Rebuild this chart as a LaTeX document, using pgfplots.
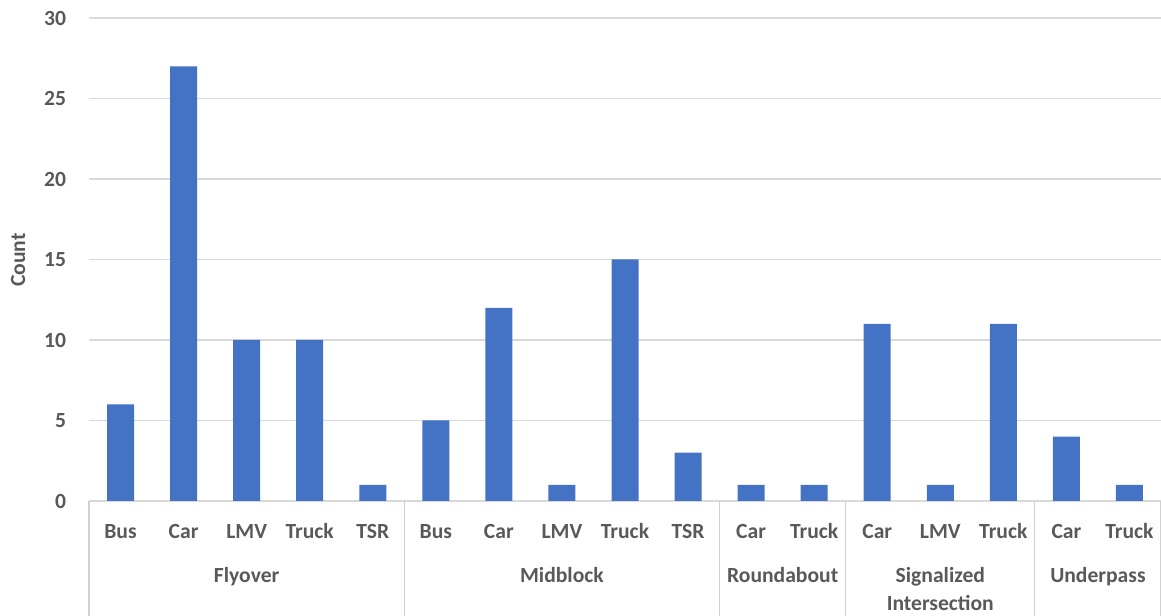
\documentclass[border=0pt]{standalone}
\usepackage{fontspec}
\setmainfont{Carlito}
\usepackage{pgfplots}
\pgfplotsset{compat=1.18}
\definecolor{barblue}{HTML}{4472C4}
\definecolor{labelgray}{HTML}{595959}
\definecolor{gridgray}{HTML}{D9D9D9}
\definecolor{sepgray}{HTML}{D0D0D0}
\begin{document}
\begin{tikzpicture}
\useasboundingbox (0pt,0pt) rectangle (870.75pt,462pt);
\begin{axis}[
  at={(66.75pt,86.25pt)}, anchor=south west,
  scale only axis, width=804pt, height=362.25pt,
  ybar, bar width=20.25pt,
  xmin=-0.5, xmax=16.5, ymin=0, ymax=30,
  ytick={0,5,...,30},
  xtick={0,...,16},
  xticklabels={Bus,Car,LMV,Truck,TSR,Bus,Car,LMV,Truck,TSR,Car,Truck,Car,LMV,Truck,Car,Truck},
  ymajorgrids, grid style={gridgray, line width=0.9pt},
  axis line style={draw=none}, tick style={draw=none},
  /pgf/number format/assume math mode=true,
  ticklabel style={font=\fontsize{16.2}{18}\selectfont\bfseries, text=labelgray, inner sep=0pt},
  xticklabel style={anchor=base, yshift=-23.8pt},
  yticklabel style={anchor=east, xshift=-17pt},
  clip=false,
]
\addplot[fill=barblue, draw=none] coordinates {
  (0,6) (1,27) (2,10) (3,10) (4,1)
  (5,5) (6,12) (7,1) (8,15) (9,3)
  (10,1) (11,1)
  (12,11) (13,1) (14,11)
  (15,4) (16,1)
};
% group separators below the category axis
\pgfplotsinvokeforeach{-0.5,4.5,9.5,11.5,14.5,16.5}{
  \draw[sepgray, line width=0.9pt] (axis cs:#1,0) -- ++(0pt,-86.25pt);
}
% group names
\tikzset{grp/.style={font=\fontsize{16.2}{20}\selectfont\bfseries, text=labelgray, anchor=base, inner sep=0pt}}
\node[grp] at ([yshift=-60.8pt]axis cs:2,0) {Flyover};
\node[grp] at ([yshift=-60.8pt]axis cs:7,0) {Midblock};
\node[grp] at ([yshift=-60.8pt]axis cs:10.5,0) {Roundabout};
\node[grp] at ([yshift=-60.8pt]axis cs:13,0) {Signalized};
\node[grp] at ([yshift=-81.8pt]axis cs:13,0) {Intersection};
\node[grp] at ([yshift=-60.8pt]axis cs:15.5,0) {Underpass};
\end{axis}
\node[rotate=90, font=\fontsize{16.2}{18}\selectfont\bfseries, text=labelgray, inner sep=0pt] at (13.5pt,267pt) {Count};
\end{tikzpicture}
\end{document}
